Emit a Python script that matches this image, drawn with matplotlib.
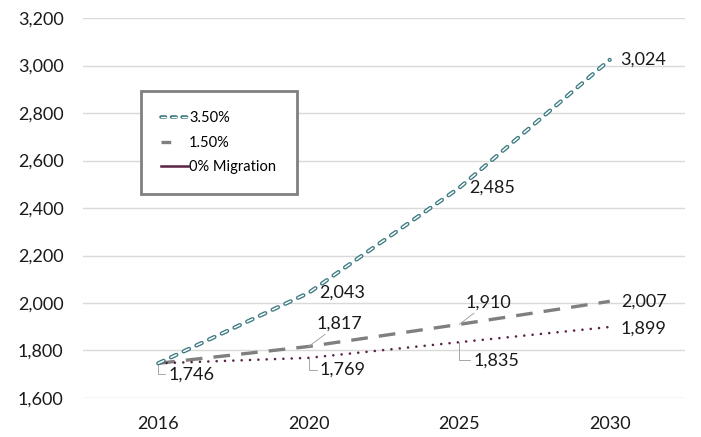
import matplotlib.pyplot as plt
from matplotlib.lines import Line2D
from matplotlib.legend_handler import HandlerTuple

plt.rcParams['font.family'] = ['Lato', 'DejaVu Sans']
plt.rcParams['lines.scale_dashes'] = False

anos = ["2016", "2020", "2025", "2030"]
cresc_350 = [1746, 2043, 2485, 3024]
cresc_150 = [1746, 1817, 1910, 2007]
migracao_0 = [1746, 1769, 1835, 1899]

teal = "#3c7a82"
cinza = "#7f7f7f"
vinho = "#5a2346"

fig = plt.figure(figsize=(7.01, 4.37), dpi=100)
ax = fig.add_axes([83 / 701, 1 - 398 / 437, (685 - 83) / 701, (398 - 18) / 437])

x = range(len(anos))

# linha 3.50%: tracejado "duplo" (contorno teal, miolo branco)
ax.plot(x, cresc_350, color=teal, lw=3.0, dashes=(4.3, 5.8),
        dash_capstyle="round", zorder=4)
ax.plot(x, cresc_350, color="white", lw=1.1, dashes=(4.3, 5.8),
        dash_capstyle="round", zorder=5)
ax.plot(x, cresc_150, color=cinza, lw=2.4, dashes=(12, 8), zorder=3)
ax.plot(x, migracao_0, color=vinho, lw=1.9, dashes=(0.01, 6),
        dash_capstyle="round", zorder=3)

ax.set_xlim(-0.5, 3.5)
ax.set_ylim(1600, 3200)
ax.set_yticks(range(1600, 3201, 200))
ax.set_yticklabels([f"{v:,}" for v in range(1600, 3201, 200)])
ax.set_xticks(list(x))
ax.set_xticklabels(anos)
ax.tick_params(axis="y", length=0, pad=14, labelsize=13, colors="#1a1a1a")
ax.tick_params(axis="x", length=0, pad=13, labelsize=13, colors="#1a1a1a")
ax.grid(axis="y", color="#d9d9d9", lw=1)
ax.set_axisbelow(True)
for s in ax.spines.values():
    s.set_visible(False)

# rótulos de dados
lbl = dict(fontsize=13, color="#1a1a1a", textcoords="offset pixels", va="center")
leader = dict(arrowstyle="-", color="#a6a6a6", lw=0.7, shrinkA=0, shrinkB=0)
bracket = dict(leader, connectionstyle="angle,angleA=0,angleB=90,rad=0")

for i, v in enumerate(cresc_350[1:], start=1):
    ax.annotate(f"{v:,}", (i, v), xytext=(10, 0), **lbl)
ax.annotate(f"{cresc_150[3]:,}", (3, cresc_150[3]), xytext=(11, 0), **lbl)
ax.annotate(f"{migracao_0[3]:,}", (3, migracao_0[3]), xytext=(11, -2), **lbl)

ax.annotate(f"{cresc_350[0]:,}", (0, cresc_350[0]), xytext=(10, -11),
            arrowprops=bracket, **lbl)
ax.annotate(f"{migracao_0[1]:,}", (1, migracao_0[1]), xytext=(11, -12),
            arrowprops=bracket, **lbl)
ax.annotate(f"{migracao_0[2]:,}", (2, migracao_0[2]), xytext=(14, -18),
            arrowprops=bracket, **lbl)
ax.annotate(f"{cresc_150[1]:,}", (1, cresc_150[1]), xytext=(8, 23),
            arrowprops=leader, **lbl)
ax.annotate(f"{cresc_150[2]:,}", (2, cresc_150[2]), xytext=(6, 22),
            arrowprops=leader, **lbl)

# legenda
h350 = (Line2D([], [], color=teal, lw=2.6, dashes=(3.2, 4.4), dash_capstyle="round"),
        Line2D([], [], color="white", lw=0.9, dashes=(3.2, 4.4), dash_capstyle="round"))
h150 = Line2D([], [], color=cinza, lw=2.4, dashes=(7, 30))
h0 = Line2D([], [], color=vinho, lw=1.8)
leg = ax.legend([h350, h150, h0], ["3.50%", "1.50%", "0% Migration"],
                handler_map={tuple: HandlerTuple(ndivide=1, pad=0)},
                loc="upper left", bbox_to_anchor=(141 / 701, 1 - 91 / 437),
                bbox_transform=fig.transFigure, fontsize=10.5, handlelength=1.8,
                handletextpad=0.1, labelspacing=0.7, borderpad=1.4,
                borderaxespad=0, fancybox=False, framealpha=1,
                edgecolor="#808080")
leg.get_frame().set_linewidth(2)

fig.savefig("out.png", dpi=100)
